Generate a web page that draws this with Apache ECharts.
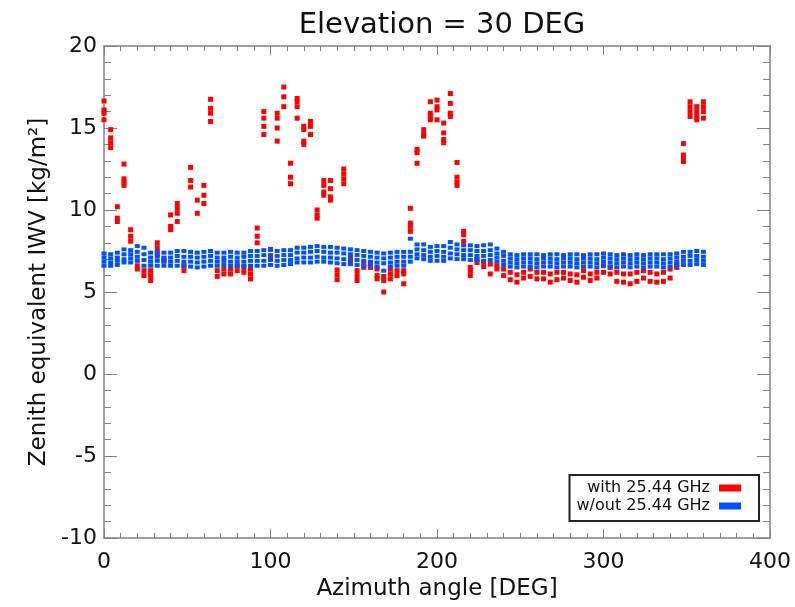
<!DOCTYPE html>
<html>
<head>
<meta charset="utf-8">
<script src="https://cdn.jsdelivr.net/npm/echarts@6/dist/echarts.min.js"></script>
<style>html,body{margin:0;padding:0;background:#fff}#c{width:795px;height:607px}</style>
</head>
<body>
<div id="c"></div>
<script>
// ---- data ----
const titleText = 'Elevation = 30 DEG';
const xName = 'Azimuth angle [DEG]';
const yName = 'Zenith equivalent IWV [kg/m\u00B2]';
const seriesNames = ['with 25.44 GHz', 'w/out 25.44 GHz'];
const xTicks = [0, 100, 200, 300, 400];
const yTicks = [-10, -5, 0, 5, 10, 15, 20];

const azimuth = [0,4,8,12,16,20,24,28,32,36,40,44,48,52,56,60,64,68,72,76,80,84,88,92,96,100,
  104,108,112,116,120,124,128,132,136,140,144,148,152,156,160,164,168,172,176,180,184,188,192,196,
  200,204,208,212,216,220,224,228,232,236,240,244,248,252,256,260,264,268,272,276,280,284,288,292,
  296,300,304,308,312,316,320,324,328,332,336,340,344,348,352,356,360];

// with 25.44 GHz: repeated retrievals per azimuth
const redIWV = [
  [16.65,16.1,15.9,15.5],[14.9,14.4,14.1,13.8],[10.2,9.5,9.3],[12.8,11.9,11.7,11.5],[8.8,8.4,8.1],
  [6.6,6.4],[6.3,6.0],[6.3,6.0,5.7],[8.0,7.7,7.35],[7.0,6.9],
  [9.7,9.0,8.8],[10.4,10.1,9.8,9.3],[6.6,6.3],[12.6,11.8,11.4],[10.6,9.8],
  [11.5,10.9,10.4],[16.75,16.2,15.9,15.4],[6.3,5.95],[6.4,6.1],[6.4,6.1],
  [6.6,6.3],[6.5,6.2],[6.4,6.1,5.8],[8.9,8.4,8.0],[16.0,15.6,15.1,14.6],
  [7.6,7.1],[15.9,15.6,15.0,14.2],[17.5,16.9,16.3],[12.85,12.0,11.6],[16.8,16.6,16.3,15.6],
  [15.1,14.9,14.2,14.0],[15.4,15.1,14.6],[10.0,9.7,9.5],[11.8,11.5,11.1,10.9],[11.8,11.3,10.8,10.6],
  [6.35,6.05,5.75],[12.5,12.2,11.9,11.6],[7.1,6.8],[6.3,6.0,5.7],[6.7,6.5],
  [6.7,6.5],[6.4,6.0,5.8],[5.95,5.7,5.0],[6.4,6.1,5.8],[6.3,6.0],
  [6.3,6.1,5.5],[10.1,9.2,9.0,8.7],[13.7,13.5,12.85],[14.9,14.6,14.5],[16.6,15.9,15.7,15.5],
  [16.7,16.3,16.1,15.5],[15.3,14.7,14.3,14.1],[17.1,16.5,15.9,15.7],[12.9,12.0,11.7,11.5],[8.7,8.5,8.1],
  [6.5,6.3,6.0],[7.0,6.8],[6.85,6.55],[6.7,6.1],[6.6,6.4],
  [6.4,6.0],[6.2,5.75],[6.05,5.6],[6.2,5.85],[6.4,5.95],
  [6.2,5.8],[6.2,5.8],[6.1,5.6],[6.2,5.75],[6.2,5.85],
  [6.1,5.7],[6.05,5.6],[6.3,5.9],[6.1,5.7],[6.2,5.85],
  [6.6,6.2],[6.5,6.1],[6.2,5.65],[6.1,5.6],[6.1,5.5],
  [6.2,5.65],[6.3,5.85],[6.2,5.65],[6.1,5.6],[6.2,5.65],
  [6.4,5.85],[6.7,6.5],[14.05,13.35,13.15,12.95],[16.6,16.3,16.0,15.7],[16.3,16.0,15.7,15.5],
  [16.6,16.3,16.0,15.6]
];

// w/out 25.44 GHz: four repeated retrievals per azimuth
const blueA = [7.35,7.3,7.4,7.6,7.55,7.8,7.7,7.4,7.45,7.4,7.4,7.5,7.5,7.45,7.4,7.45,7.5,7.4,7.4,7.45,
  7.4,7.4,7.5,7.5,7.55,7.6,7.5,7.55,7.55,7.7,7.7,7.75,7.8,7.75,7.75,7.7,7.65,7.6,7.55,7.5,
  7.45,7.4,7.35,7.4,7.45,7.45,8.25,7.9,7.9,7.75,7.8,7.8,8.05,7.9,7.85,7.85,7.8,7.85,7.9,7.65,
  7.45,7.3,7.25,7.3,7.3,7.3,7.25,7.3,7.3,7.25,7.3,7.3,7.25,7.3,7.3,7.35,7.3,7.25,7.3,7.25,
  7.3,7.25,7.3,7.3,7.3,7.3,7.35,7.45,7.45,7.5,7.45];
const blueB = [7.1,7.05,7.1,7.3,7.3,7.45,7.3,7.1,7.15,7.1,7.1,7.2,7.15,7.15,7.1,7.15,7.2,7.1,7.1,7.15,
  7.1,7.15,7.2,7.2,7.25,7.25,7.2,7.25,7.25,7.4,7.4,7.45,7.5,7.45,7.4,7.4,7.35,7.3,7.25,7.2,
  7.15,7.1,7.05,7.1,7.15,7.15,7.45,7.6,7.55,7.45,7.5,7.45,7.7,7.6,7.55,7.55,7.5,7.5,7.55,7.35,
  7.2,7.05,7.0,7.05,7.05,7.0,7.05,7.05,7.0,7.05,7.05,7.0,7.05,7.05,7.0,7.1,7.05,7.0,7.05,7.0,
  7.05,7.0,7.05,7.05,7.0,7.05,7.1,7.15,7.2,7.2,7.15];
const blueC = [6.85,6.8,6.9,7.0,7.05,7.15,6.95,6.85,6.9,6.85,6.85,6.9,6.85,6.85,6.8,6.85,6.9,6.85,6.9,6.85,
  6.85,6.85,6.9,6.9,6.9,6.95,6.9,6.95,6.95,7.05,7.1,7.1,7.15,7.1,7.1,7.05,7.0,7.0,6.95,6.9,
  6.85,6.8,6.75,6.8,6.85,6.85,7.15,7.3,7.25,7.15,7.2,7.15,7.35,7.3,7.25,7.25,7.2,7.2,7.25,7.1,
  6.9,6.8,6.75,6.8,6.8,6.75,6.8,6.8,6.75,6.8,6.8,6.75,6.8,6.8,6.75,6.85,6.8,6.75,6.8,6.75,
  6.8,6.75,6.8,6.8,6.75,6.8,6.85,6.9,6.9,6.95,6.9];
const blueD = [6.6,6.6,6.65,6.8,6.8,6.9,6.6,6.6,6.6,6.6,6.6,6.6,6.6,6.55,6.5,6.55,6.6,6.6,6.65,6.6,
  6.6,6.6,6.6,6.6,6.6,6.65,6.6,6.65,6.7,6.8,6.8,6.8,6.85,6.85,6.8,6.75,6.7,6.7,6.65,6.6,
  6.6,6.55,6.3,6.55,6.6,6.6,6.85,7.05,7.0,6.9,6.9,6.9,7.05,7.0,7.0,6.95,6.95,6.9,6.95,6.85,
  6.65,6.55,6.5,6.55,6.55,6.5,6.55,6.55,6.5,6.55,6.55,6.5,6.55,6.55,6.5,6.6,6.55,6.5,6.55,6.5,
  6.55,6.5,6.55,6.55,6.5,6.55,6.6,6.65,6.65,6.7,6.65];

// ---- build series data ----
const redData = [];
azimuth.forEach((az, i) => redIWV[i].forEach(v => redData.push([az, v])));
const blueData = [];
[blueA, blueB, blueC, blueD].forEach(arr => arr.forEach((v, i) => blueData.push([azimuth[i], v])));

const FONT = 'DejaVu Sans';
const frameColor = '#808080';
const chart = echarts.init(document.getElementById('c'), null, {renderer: 'canvas'});

function xAx(pos, showLabel) {
  return {
    type: 'value', position: pos, min: xTicks[0], max: xTicks[xTicks.length - 1], interval: 100,
    name: showLabel ? xName : '', nameLocation: 'middle', nameGap: 36,
    nameTextStyle: {fontFamily: FONT, fontSize: 23, color: '#111'},
    axisLine: {show: true, onZero: false, lineStyle: {color: frameColor, width: 1.5}},
    axisTick: {show: true, inside: true, length: 9, lineStyle: {color: frameColor, width: 1}},
    minorTick: {show: true, splitNumber: 10, length: 5, lineStyle: {color: frameColor, width: 1}},
    axisLabel: {show: showLabel, margin: 13, fontFamily: FONT, fontSize: 22, color: '#111',
      showMinLabel: true, showMaxLabel: true},
    splitLine: {show: false}
  };
}
function yAx(pos, showLabel) {
  return {
    type: 'value', position: pos, min: yTicks[0], max: yTicks[yTicks.length - 1], interval: 5,
    name: showLabel ? yName : '', nameLocation: 'middle', nameGap: 52, nameRotate: 90,
    nameTextStyle: {fontFamily: FONT, fontSize: 23, color: '#111'},
    axisLine: {show: true, onZero: false, lineStyle: {color: frameColor, width: 1.5}},
    axisTick: {show: true, inside: true, length: 13, lineStyle: {color: frameColor, width: 1}},
    minorTick: {show: true, splitNumber: 5, length: 7, lineStyle: {color: frameColor, width: 1}},
    axisLabel: {show: showLabel, margin: 7, fontFamily: FONT, fontSize: 22, color: '#111',
      showMinLabel: true, showMaxLabel: true},
    splitLine: {show: false}
  };
}

chart.setOption({
  animation: false,
  backgroundColor: '#fff',
  title: {
    text: titleText, left: 437, top: 6, textAlign: 'center',
    textStyle: {fontFamily: FONT, fontSize: 29, fontWeight: 'normal', color: '#111'}
  },
  grid: {left: 104, right: 25, top: 46, bottom: 69, containLabel: false},
  xAxis: [xAx('bottom', true), xAx('top', false)],
  yAxis: [yAx('left', true), yAx('right', false)],
  legend: {
    orient: 'vertical', align: 'right', right: 36, bottom: 86,
    padding: [5, 18, 7, 7], itemGap: 2, itemWidth: 22, itemHeight: 7,
    borderColor: '#222', borderWidth: 2, backgroundColor: '#fff',
    icon: 'rect',
    textStyle: {fontFamily: FONT, fontSize: 16, color: '#111', padding: [0, 4, 0, 0]},
    data: seriesNames
  },
  series: [
    {name: seriesNames[0], type: 'scatter', symbol: 'rect', symbolSize: [5, 5],
      itemStyle: {color: '#ff0000', opacity: 1}, data: redData, xAxisIndex: 0, yAxisIndex: 0},
    {name: seriesNames[1], type: 'scatter', symbol: 'rect', symbolSize: [5, 4],
      itemStyle: {color: '#0050ff', opacity: 1}, data: blueData, xAxisIndex: 0, yAxisIndex: 0}
  ]
});
</script>
</body>
</html>
